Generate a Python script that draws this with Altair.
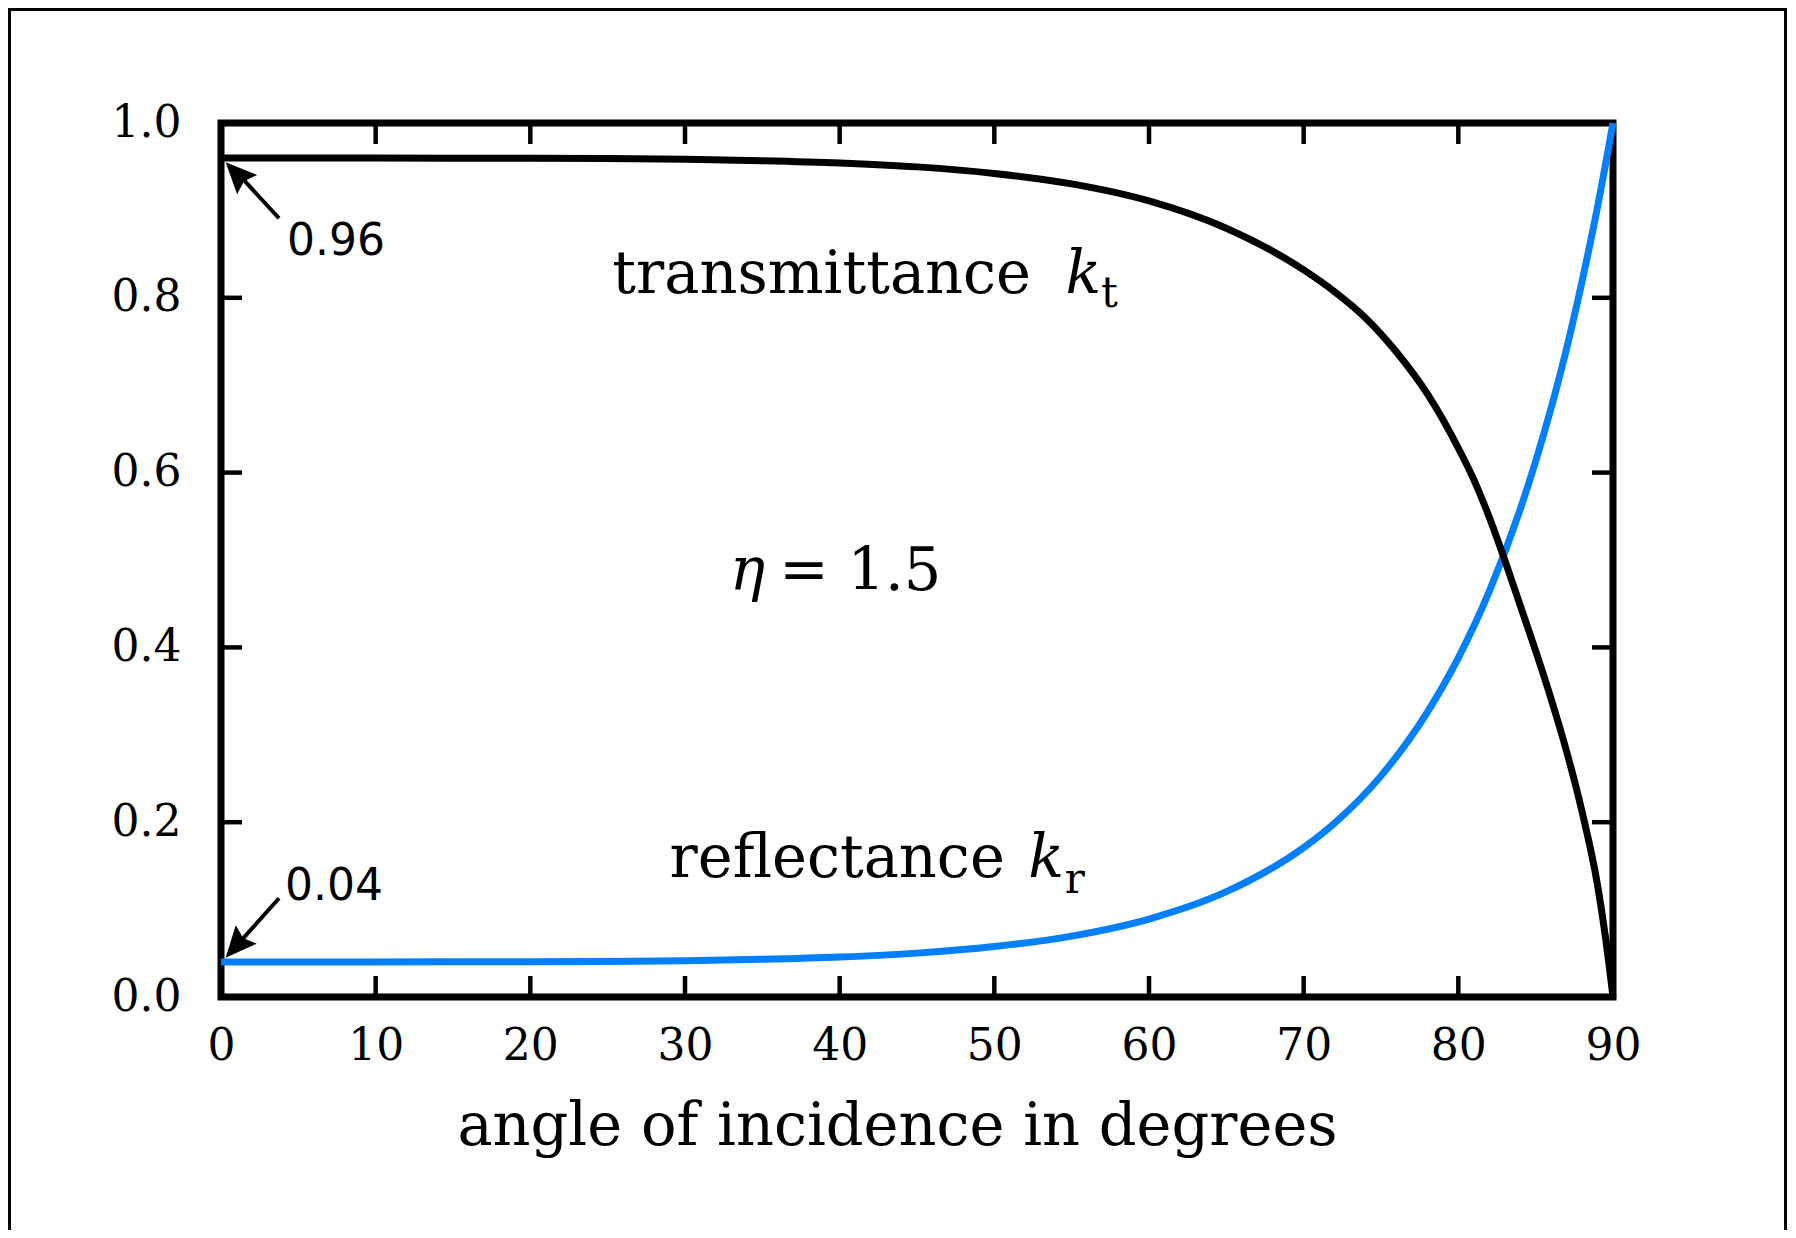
import altair as alt
import pandas as pd

# ---- data ----
angles_r = [0, 5, 10, 15, 20, 25, 30, 35, 40, 45, 50, 55, 60, 65, 70, 72, 75, 78, 80, 82, 84, 85, 86, 87, 88, 89, 90]
reflectance = [0.04, 0.04, 0.0401, 0.0402, 0.0403, 0.0407, 0.0415, 0.0431, 0.0457, 0.0502, 0.0577, 0.0697,
               0.0892, 0.1205, 0.171, 0.199, 0.253, 0.326, 0.388, 0.464, 0.558, 0.613, 0.674, 0.742, 0.819, 0.904, 1.0]
angles_t = [0, 5, 10, 15, 20, 25, 30, 35, 40, 45, 50, 55, 60, 65, 70, 72, 74, 76, 78, 80, 81, 82, 83, 84, 85, 86,
            87, 88, 89, 89.5, 90]
transmittance = [0.96, 0.96, 0.9599, 0.9598, 0.9597, 0.9593, 0.9585, 0.9569, 0.9543, 0.9498, 0.9423, 0.9303,
                 0.9108, 0.8795, 0.832, 0.807, 0.777, 0.738, 0.69, 0.628, 0.592, 0.549, 0.5, 0.448, 0.396, 0.341,
                 0.281, 0.212, 0.128, 0.07, 0.0]

x_tick_values = [10, 20, 30, 40, 50, 60, 70, 80]
y_tick_values = [0.2, 0.4, 0.6, 0.8]
x_label_values = [0, 10, 20, 30, 40, 50, 60, 70, 80, 90]
y_label_values = [0.0, 0.2, 0.4, 0.6, 0.8, 1.0]

# annotation texts (data coordinates)
plain_text = ["transmittance", "reflectance", "= 1.5"]
plain_x = [25.3, 29.0, 36.1]
plain_y = [0.806, 0.137, 0.466]
italic_text = ["k", "k", "η"]
italic_x = [54.6, 52.2, 32.9]
italic_y = [0.806, 0.137, 0.466]
sub_text = ["t", "r"]
sub_x = [56.9, 54.55]
sub_y = [0.789, 0.119]
value_text = ["0.96", "0.04"]
value_x = [4.27, 4.14]
value_y = [0.849, 0.111]

# arrows: tail -> base of head, and tip
arrow_tail_x = [3.75, 3.75]
arrow_tail_y = [0.891, 0.113]
arrow_base_x = [1.2, 1.17]
arrow_base_y = [0.94, 0.062]
arrow_tip_x = [0.3, 0.3]
arrow_tip_y = [0.955, 0.045]
arrow_angle = [316, 221.5]

W, H = 1392, 874
PAD_L, PAD_T, PAD_R, PAD_B = 213, 115, 175, 233
SERIF = "DejaVu Serif"
SANS = "DejaVu Sans"

xs = alt.Scale(domain=[0, 90], nice=False)
ys = alt.Scale(domain=[0, 1], nice=False)

x_axis = alt.Axis(values=x_label_values, ticks=False, tickSize=0, domain=False, grid=False,
                  labelFont=SERIF, labelFontSize=44, labelPadding=27, labelColor="black",
                  labelFlush=False, labelOverlap=False,
                  title="angle of incidence in degrees", titleFont=SERIF, titleFontSize=59,
                  titleFontWeight="normal", titleColor="black", titleX=676, titleY=147,
                  titleBaseline="alphabetic", titleAlign="center")
y_axis = alt.Axis(values=y_label_values, format=".1f", ticks=False, tickSize=0, domain=False, grid=False,
                  labelFont=SERIF, labelFontSize=44, labelPadding=40, labelColor="black",
                  labelFlush=False, labelOverlap=False, title=None)


def X(field):
    return alt.X(field, scale=xs, axis=x_axis)


def Y(field):
    return alt.Y(field, scale=ys, axis=y_axis)


refl_df = pd.DataFrame({"angle": angles_r, "k": reflectance})
trans_df = pd.DataFrame({"angle": angles_t, "k": transmittance})

blue = alt.Chart(refl_df).mark_line(color="#007FFF", strokeWidth=7, interpolate="monotone").encode(
    x=X("angle:Q"), y=Y("k:Q"))
black = alt.Chart(trans_df).mark_line(color="black", strokeWidth=7, interpolate="monotone").encode(
    x=X("angle:Q"), y=Y("k:Q"))

# inward ticks
xt = pd.DataFrame({"v": x_tick_values})
yt = pd.DataFrame({"v": y_tick_values})
tick_style = dict(color="black", strokeWidth=4.5)
xt_bottom = alt.Chart(xt).mark_rule(**tick_style).encode(x=X("v:Q"), y=alt.value(H), y2=alt.value(H - 21))
xt_top = alt.Chart(xt).mark_rule(**tick_style).encode(x=X("v:Q"), y=alt.value(0), y2=alt.value(21))
yt_left = alt.Chart(yt).mark_rule(**tick_style).encode(y=Y("v:Q"), x=alt.value(0), x2=alt.value(21))
yt_right = alt.Chart(yt).mark_rule(**tick_style).encode(y=Y("v:Q"), x=alt.value(W - 21), x2=alt.value(W))

# outer frame (decoration)
one = pd.DataFrame({"a": [0]})
frame_style = dict(color="black", strokeWidth=3, strokeCap="square")
RIGHT = W + PAD_R - 2.5
frame_left = alt.Chart(one).mark_rule(**frame_style).encode(
    x=alt.value(-PAD_L + 1.5), y=alt.value(-PAD_T + 1.5), y2=alt.value(H + PAD_B))
frame_right = alt.Chart(one).mark_rule(**frame_style).encode(
    x=alt.value(RIGHT), y=alt.value(-PAD_T + 1.5), y2=alt.value(H + PAD_B))
frame_top = alt.Chart(one).mark_rule(**frame_style).encode(
    x=alt.value(-PAD_L + 1.5), x2=alt.value(RIGHT), y=alt.value(-PAD_T + 1.5))

# annotations
plain_df = pd.DataFrame({"x": plain_x, "y": plain_y, "t": plain_text})
italic_df = pd.DataFrame({"x": italic_x, "y": italic_y, "t": italic_text})
sub_df = pd.DataFrame({"x": sub_x, "y": sub_y, "t": sub_text})
value_df = pd.DataFrame({"x": value_x, "y": value_y, "t": value_text})


def text_layer(df, **kw):
    return alt.Chart(df).mark_text(align="left", baseline="alphabetic", color="black", **kw).encode(
        x=X("x:Q"), y=Y("y:Q"), text="t:N")


plain = text_layer(plain_df, font=SERIF, fontSize=59)
italic = text_layer(italic_df, font=SERIF, fontSize=59, fontStyle="italic")
subs = text_layer(sub_df, font=SERIF, fontSize=42)
values = text_layer(value_df, font=SANS, fontSize=44)

arrow_df = pd.DataFrame({
    "tx": arrow_tail_x, "ty": arrow_tail_y,
    "bx": arrow_base_x, "by": arrow_base_y,
    "px": arrow_tip_x, "py": arrow_tip_y, "ang": arrow_angle,
})
arrow_shaft = alt.Chart(arrow_df).mark_rule(color="black", strokeWidth=4).encode(
    x=X("tx:Q"), y=Y("ty:Q"), x2="bx:Q", y2="by:Q")
arrow_head = alt.Chart(arrow_df).mark_point(
    shape="M0,0 L-0.45,1 L0,0.85 L0.45,1 Z", filled=True, color="black", opacity=1,
    size=3844, strokeWidth=0).encode(
    x=X("px:Q"), y=Y("py:Q"), angle=alt.Angle("ang:Q", scale=None))

chart = alt.layer(
    blue, black, xt_bottom, xt_top, yt_left, yt_right,
    plain, italic, subs, values, arrow_shaft, arrow_head,
    frame_left, frame_right, frame_top,
).properties(
    width=W, height=H,
    autosize=alt.AutoSizeParams(type="none"),
    padding={"left": PAD_L, "top": PAD_T, "right": PAD_R, "bottom": PAD_B},
    background="white",
).configure_view(stroke="black", strokeWidth=7)

chart.save("out.html", embed_options={"renderer": "svg", "actions": False})
